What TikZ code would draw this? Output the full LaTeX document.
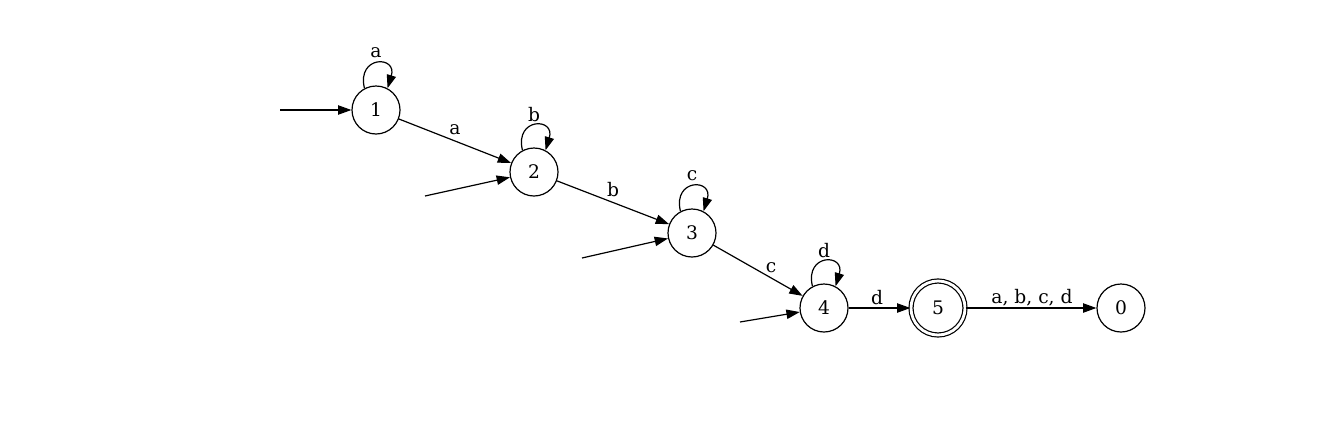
\documentclass[tikz,border=0pt]{standalone}
\usepackage{fontspec}
\setmainfont{DejaVu Serif}
\usetikzlibrary{arrows.meta}
\begin{document}
\begin{tikzpicture}[x=0.75pt,y=-0.75pt,
  font=\fontsize{14}{16}\selectfont,
  st/.style={circle,draw,line width=0.9pt,minimum size=36pt,inner sep=0pt},
  acc/.style={circle,draw,line width=0.9pt,double,double distance=2.1pt,minimum size=40.5pt,inner sep=0pt},
  edge/.style={line width=0.9pt,-{Triangle[length=10pt,width=7pt]}},
  lbl/.style={inner sep=1pt}
]
\useasboundingbox (0,0) rectangle (1328,422);
\node[st] (n1) at (376,110) {1};
\node[st] (n2) at (534,172) {2};
\node[st] (n3) at (692,233) {3};
\node[st] (n4) at (824,308) {4};
\node[acc] (n5) at (938,308) {5};
\node[st] (n0) at (1121,308) {0};
\coordinate (i1) at (280,110);
\coordinate (i2) at (425,196);
\coordinate (i3) at (582,258);
\coordinate (i4) at (740,322);
\draw[edge] (i1) -- (n1);
\draw[edge] (i2) -- (n2);
\draw[edge] (i3) -- (n3);
\draw[edge] (i4) -- (n4);
\draw[edge] (n1) -- (n2);
\draw[edge] (n2) -- (n3);
\draw[edge] (n3) -- (n4);
\draw[edge] (n4) -- (n5);
\draw[edge] (n5) -- (n0);
\node[lbl] (la1) at (455,130) {a};
\node[lbl] (lb2) at (613,190) {b};
\node[lbl] (lc3) at (771,268) {c};
\node[lbl] (ld4) at (877,298) {d};
\node[lbl] (lall) at (1032,298) {a, b, c, d};
\foreach \n/\l in {n1/a,n2/b,n3/c,n4/d}{
  \draw[edge] (\n.118) .. controls +(-8,-33) and +(10,-33) .. (\n.62);
  \node[lbl] at ([yshift=0.75*57pt]\n.center) {\l};
}
\end{tikzpicture}
\end{document}
